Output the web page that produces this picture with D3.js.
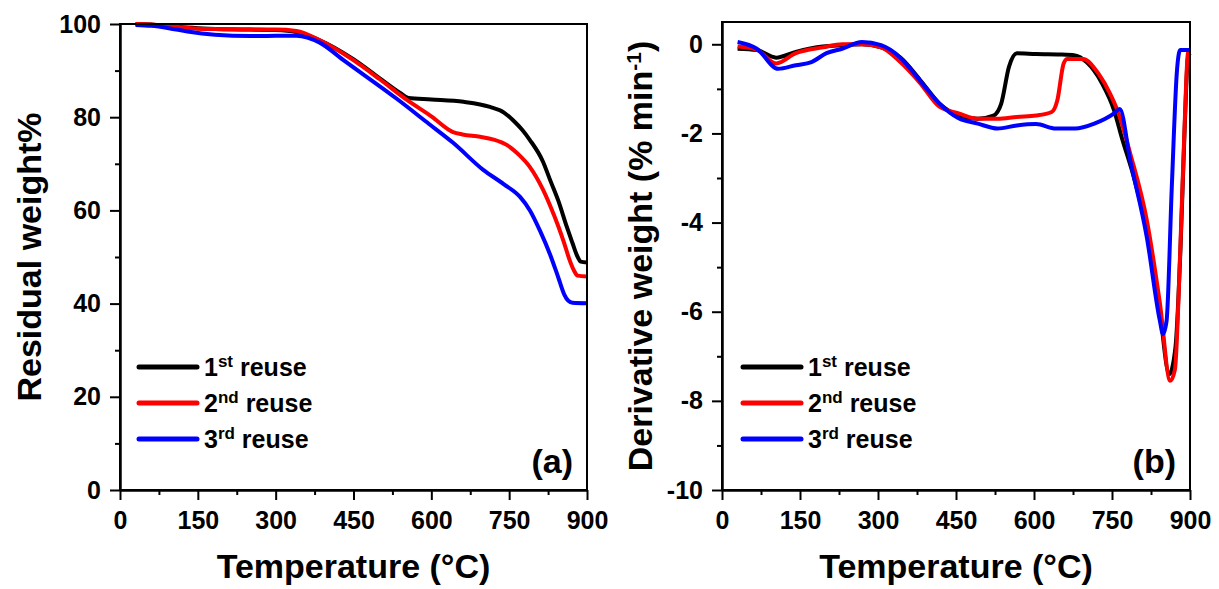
<!DOCTYPE html>
<html lang="en">
<head>
  <meta charset="UTF-8">
  <title>TGA / DTG reuse</title>
  <style>
    body { margin: 0; background: #fff; }
    text { font-family: "Liberation Sans", Arial, sans-serif; font-weight: bold; fill: #000; }
  </style>
</head>
<body>
  <script src="https://cdn.jsdelivr.net/npm/d3@7/dist/d3.min.js"></script>
  <script>
    // TGA curves (a), residual weight %
    var tgaT1 = [30, 60, 100, 150, 200, 250, 300, 340, 385, 449, 500, 540, 556, 600, 662, 713, 740, 757, 775, 790, 815, 829, 845, 861, 872, 880, 888, 900];
    var tgaW1 = [100, 99.9, 99.5, 99.1, 98.9, 98.8, 98.7, 98.3, 96.5, 92.5, 88.4, 85.2, 84.1, 83.8, 83.3, 82.2, 81.0, 79.4, 77.3, 75.1, 70.5, 66.5, 62.0, 56.5, 53.0, 50.5, 49.0, 48.8];
    var tgaT2 = [30, 60, 100, 150, 200, 250, 300, 340, 385, 449, 500, 553, 600, 642, 660, 694, 720, 746, 770, 790, 815, 829, 845, 856, 866, 874, 882, 900];
    var tgaW2 = [100, 99.9, 99.5, 99.0, 98.9, 98.8, 98.8, 98.5, 96.5, 92.3, 88.2, 83.7, 80.2, 76.8, 76.3, 75.8, 75.2, 74.0, 71.8, 69.3, 64.5, 61.0, 56.5, 53.0, 49.5, 47.3, 46.0, 45.8];
    var tgaT3 = [30, 60, 94, 130, 183, 251, 300, 340, 385, 430, 534, 595, 642, 700, 740, 771, 790, 810, 829, 845, 856, 864, 872, 900];
    var tgaW3 = [99.8, 99.6, 99.1, 98.4, 97.7, 97.4, 97.5, 97.5, 96.0, 92.3, 83.9, 78.6, 74.5, 68.7, 65.6, 62.9, 60.0, 55.5, 50.5, 45.5, 42.0, 40.6, 40.2, 40.1];

    // DTG curves (b), derivative weight
    var dtgT1 = [30, 67, 104, 142, 194, 230, 269, 306, 343, 381, 418, 455, 492, 522, 537, 552, 567, 604, 650, 679, 701, 731, 754, 769, 790, 817, 842, 860, 872, 882, 890, 896, 900];
    var dtgV1 = [-0.1, -0.13, -0.3, -0.17, -0.05, -0.02, 0, -0.07, -0.3, -0.8, -1.33, -1.6, -1.67, -1.6, -1.33, -0.5, -0.2, -0.22, -0.23, -0.25, -0.4, -0.88, -1.48, -2.1, -2.9, -4.2, -6.0, -7.4, -6.8, -4.5, -1.8, -0.3, -0.2];
    var dtgT2 = [30, 67, 104, 142, 194, 231, 269, 306, 343, 381, 418, 455, 492, 530, 567, 604, 634, 645, 657, 664, 694, 724, 746, 761, 785, 817, 842, 862, 871, 881, 890, 896, 900];
    var dtgV2 = [-0.05, -0.12, -0.43, -0.2, -0.07, 0, 0, -0.07, -0.4, -0.87, -1.4, -1.55, -1.67, -1.67, -1.63, -1.6, -1.52, -1.25, -0.43, -0.33, -0.33, -0.66, -1.1, -1.5, -2.45, -3.95, -5.8, -7.55, -7.3, -4.7, -1.7, -0.2, -0.15];
    var dtgT3 = [30, 67, 108, 142, 172, 201, 231, 269, 306, 343, 381, 418, 455, 492, 530, 567, 604, 642, 679, 716, 754, 765, 785, 817, 842, 848, 855, 865, 875, 881, 900];
    var dtgV3 = [0.05, -0.1, -0.55, -0.47, -0.4, -0.2, -0.1, 0.05, -0.02, -0.3, -0.82, -1.33, -1.66, -1.78, -1.89, -1.82, -1.79, -1.89, -1.89, -1.78, -1.55, -1.45, -2.6, -4.33, -6.2, -6.5, -6.2, -3.2, -0.58, -0.13, -0.13];

    var xTicks = [0, 150, 300, 450, 600, 750, 900];
    var xMinor = [75, 225, 375, 525, 675, 825];
    var tgaTicks = [0, 20, 40, 60, 80, 100];
    var tgaMinor = [10, 30, 50, 70, 90];
    var dtgTicks = [0, -2, -4, -6, -8, -10];
    var dtgMinor = [-1, -3, -5, -7, -9];

    var seriesNames = [["1", "st"], ["2", "nd"], ["3", "rd"]];
    var colors = ["#000000", "#ff0000", "#0000ff"];

    var width = 1219, height = 589;
    var svg = d3.select("body").append("svg")
      .attr("width", width)
      .attr("height", height);

    function zip(ts, vs) {
      return ts.map(function(t, i){ return [t, vs[i]]; });
    }

    // plain hyphen for negatives, like the original figure
    function plain(d) { return String(d); }

    function drawPanel(o) {
      var x = d3.scaleLinear().domain([0, 900]).range([o.left, o.right]);
      var y = d3.scaleLinear().domain(o.yDomain).range([o.bottom, o.top]);

      var g = svg.append("g");

      // curves
      var line = d3.line()
        .x(function(d){ return x(d[0]); })
        .y(function(d){ return y(d[1]); })
        .curve(d3.curveMonotoneX);
      o.series.forEach(function(s, i) {
        g.append("path")
          .attr("d", line(s))
          .attr("fill", "none")
          .attr("stroke", colors[i])
          .attr("stroke-width", 4)
          .attr("stroke-linejoin", "round");
      });

      // frame
      g.append("rect")
        .attr("x", o.left).attr("y", o.top)
        .attr("width", o.right - o.left).attr("height", o.bottom - o.top)
        .attr("fill", "none").attr("stroke", "#000").attr("stroke-width", 2);

      // x axis
      g.append("g").attr("transform", "translate(0," + o.bottom + ")")
        .call(d3.axisBottom(x).tickValues(xTicks).tickSize(10).tickSizeOuter(0).tickPadding(11).tickFormat(plain));
      g.append("g").attr("transform", "translate(0," + o.bottom + ")")
        .call(d3.axisBottom(x).tickValues(xMinor).tickSize(5).tickSizeOuter(0).tickFormat(""));

      // y axis
      g.append("g").attr("transform", "translate(" + o.left + ",0)")
        .call(d3.axisLeft(y).tickValues(o.yTicks).tickSize(10).tickSizeOuter(0).tickPadding(9).tickFormat(plain));
      g.append("g").attr("transform", "translate(" + o.left + ",0)")
        .call(d3.axisLeft(y).tickValues(o.yMinor).tickSize(5).tickSizeOuter(0).tickFormat(""));

      g.selectAll(".domain").attr("stroke-width", 2);
      g.selectAll(".tick line").attr("stroke-width", 2);
      g.selectAll(".tick text").attr("font-size", "25px").attr("fill", "#000");

      // axis titles
      g.append("text")
        .attr("x", (o.left + o.right) / 2).attr("y", 578)
        .attr("text-anchor", "middle").attr("font-size", "34px")
        .text("Temperature (°C)");

      var yt = g.append("text")
        .attr("transform", "translate(" + o.yTitleX + "," + ((o.top + o.bottom) / 2) + ") rotate(-90)")
        .attr("text-anchor", "middle").attr("font-size", "34px");
      yt.append("tspan").text(o.yTitle);
      if (o.yTitleSup) {
        yt.append("tspan").attr("font-size", "21px").attr("baseline-shift", "super").text(o.yTitleSup);
        yt.append("tspan").text(")");
      }

      // legend
      seriesNames.forEach(function(n, i) {
        var ly = 367 + i * 36;
        g.append("line")
          .attr("x1", o.legX).attr("x2", o.legX + 58)
          .attr("y1", ly).attr("y2", ly)
          .attr("stroke", colors[i]).attr("stroke-width", 5).attr("stroke-linecap", "round");
        var t = g.append("text")
          .attr("x", o.legX + 65).attr("y", ly + 9)
          .attr("font-size", "25px");
        t.append("tspan").text(n[0]);
        t.append("tspan").attr("font-size", "17px").attr("baseline-shift", "super").text(n[1]);
        t.append("tspan").text(" reuse");
      });

      // panel label
      g.append("text")
        .attr("x", o.right - 14).attr("y", 473)
        .attr("text-anchor", "end").attr("font-size", "34px")
        .text(o.label);
    }

    drawPanel({
      left: 120, right: 587, top: 24, bottom: 490,
      yDomain: [0, 100], yTicks: tgaTicks, yMinor: tgaMinor,
      series: [zip(tgaT1, tgaW1), zip(tgaT2, tgaW2), zip(tgaT3, tgaW3)],
      yTitle: "Residual weight%", yTitleX: 41,
      legX: 139, label: "(a)"
    });

    drawPanel({
      left: 722, right: 1190, top: 22, bottom: 490,
      yDomain: [-10, 0.5], yTicks: dtgTicks, yMinor: dtgMinor,
      series: [zip(dtgT1, dtgV1), zip(dtgT2, dtgV2), zip(dtgT3, dtgV3)],
      yTitle: "Derivative weight (% min", yTitleSup: "-1", yTitleX: 652,
      legX: 743, label: "(b)"
    });
  </script>
</body>
</html>
